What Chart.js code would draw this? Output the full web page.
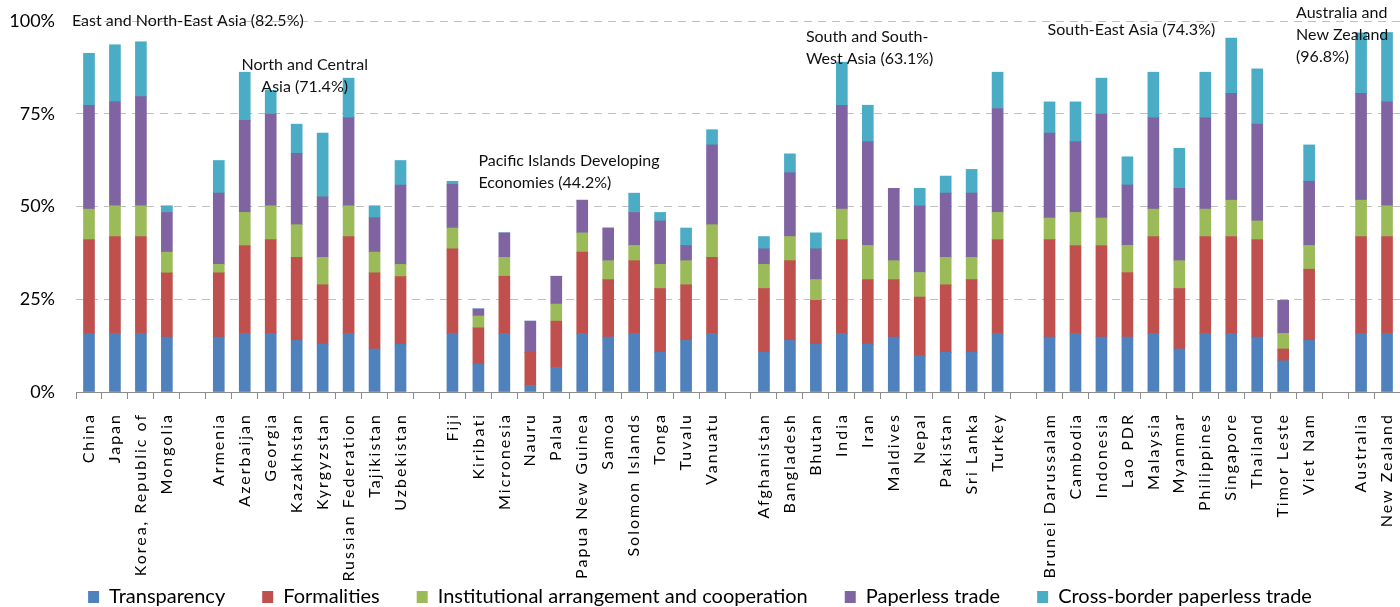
<!DOCTYPE html>
<html>
<head>
<meta charset="utf-8">
<script src="https://cdn.jsdelivr.net/npm/chart.js@4.4.0/dist/chart.umd.min.js"></script>
<style>
  html, body { margin: 0; padding: 0; background: #fff; }
  #wrap { width: 1400px; height: 607px; }
</style>
</head>
<body>
<div id="wrap"><canvas id="tradeChart"></canvas></div>
<script>
// empty strings / nulls are the spacer columns between regions
const countries = ['China', 'Japan', 'Korea, Republic of', 'Mongolia', '',
  'Armenia', 'Azerbaijan', 'Georgia', 'Kazakhstan', 'Kyrgyzstan', 'Russian Federation', 'Tajikistan', 'Uzbekistan', '',
  'Fiji', 'Kiribati', 'Micronesia', 'Nauru', 'Palau', 'Papua New Guinea', 'Samoa', 'Solomon Islands', 'Tonga', 'Tuvalu', 'Vanuatu', '',
  'Afghanistan', 'Bangladesh', 'Bhutan', 'India', 'Iran', 'Maldives', 'Nepal', 'Pakistan', 'Sri Lanka', 'Turkey', '',
  'Brunei Darussalam', 'Cambodia', 'Indonesia', 'Lao PDR', 'Malaysia', 'Myanmar', 'Philippines', 'Singapore', 'Thailand', 'Timor Leste', 'Viet Nam', '',
  'Australia', 'New Zealand'];

const transparency = [15.8, 15.8, 15.8, 14.8, null,
  14.8, 15.8, 15.8, 13.9, 12.9, 15.8, 11.6, 12.9, null,
  15.8, 7.5, 15.8, 1.8, 6.6, 15.8, 14.8, 15.8, 10.7, 13.9, 15.8, null,
  10.7, 13.9, 12.9, 15.8, 12.9, 14.8, 9.8, 10.7, 10.7, 15.8, null,
  14.8, 15.8, 14.8, 14.8, 15.8, 11.6, 15.8, 15.8, 14.8, 8.4, 13.9, null,
  15.8, 15.8];
const formalities = [25.3, 26.1, 26.1, 17.3, null,
  17.3, 23.7, 25.3, 22.4, 16.0, 26.1, 20.5, 18.2, null,
  22.8, 9.8, 15.4, 8.9, 12.5, 21.9, 15.5, 19.6, 17.2, 15.0, 20.5, null,
  17.2, 21.5, 11.8, 25.3, 17.4, 15.5, 15.8, 18.2, 19.6, 25.3, null,
  26.3, 23.7, 24.7, 17.4, 26.1, 16.3, 26.1, 26.1, 26.3, 3.2, 19.2, null,
  26.1, 26.1];
const institutional = [8.2, 8.3, 8.3, 5.6, null,
  2.3, 8.9, 9.1, 8.8, 7.4, 8.3, 5.6, 3.3, null,
  5.6, 3.2, 5.1, 0, 4.6, 5.2, 5.1, 4.1, 6.5, 6.5, 8.8, null,
  6.5, 6.5, 5.6, 8.2, 9.2, 5.1, 6.6, 7.4, 6.0, 7.3, null,
  5.8, 8.9, 7.4, 7.3, 7.4, 7.5, 7.4, 9.8, 5.0, 4.2, 6.4, null,
  9.8, 8.3];
const paperless = [28.0, 28.1, 29.4, 10.7, null,
  19.2, 24.8, 24.7, 19.2, 16.3, 23.8, 9.3, 21.4, null,
  11.8, 1.9, 6.6, 8.4, 7.5, 8.8, 8.8, 8.9, 11.7, 4.1, 21.5, null,
  4.2, 17.2, 8.3, 28.0, 28.0, 19.5, 18.0, 17.3, 17.3, 28.0, null,
  22.9, 19.1, 28.0, 16.3, 24.7, 19.5, 24.7, 28.8, 26.1, 8.9, 17.3, null,
  28.8, 28.0];
const crossBorder = [14.0, 15.3, 14.8, 1.8, null,
  8.8, 13.0, 6.4, 7.9, 17.2, 10.6, 3.2, 6.6, null,
  0.8, 0, 0, 0, 0, 0, 0, 5.2, 2.3, 4.7, 4.1, null,
  3.3, 5.1, 4.3, 11.6, 9.8, 0, 4.7, 4.6, 6.4, 9.8, null,
  8.4, 10.7, 9.7, 7.6, 12.2, 10.8, 12.2, 14.9, 14.9, 0, 9.8, null,
  16.3, 18.7];

const yTicks = [0, 25, 50, 75, 100];

const PLOT_BOTTOM = 392;
const PAD_BOTTOM = -10;

// category axis whose labels are letter-spaced and may run into the legend
class SpacedCategoryScale extends Chart.CategoryScale {
  static id = 'spacedCategory';
  static defaults = Chart.CategoryScale.defaults;
  _computeLabelArea() { return undefined; }
  drawLabels(area) {
    this.ctx.save();
    this.ctx.letterSpacing = '2px';
    super.drawLabels(area);
    this.ctx.restore();
  }
}
Chart.register(SpacedCategoryScale);

// region captions, anchored to a category index and a y value
const regionNotes = {
  id: 'regionNotes',
  afterDatasetsDraw(chart) {
    const { ctx, scales: { x, y } } = chart;
    const notes = [
      { i: 0, dx: -17, v: 100, align: 'left', lines: ['East and North-East Asia (82.5%)'] },
      { i: 8, dx: 8, v: 88.1, align: 'center', lines: ['North and Central', 'Asia (71.4%)'] },
      { i: 15, dx: 0, v: 62.4, align: 'left', lines: ['Pacific Islands Developing', 'Economies (44.2%)'] },
      { i: 28, dx: -10, v: 95.6, align: 'left', lines: ['South and South-', 'West Asia (63.1%)'] },
      { i: 37, dx: -2, v: 97.7, align: 'left', lines: ['South-East Asia (74.3%)'] },
      { i: 49, dx: -65, v: 102.3, align: 'left', lines: ['Australia and', 'New Zealand', '(96.8%)'] }
    ];
    ctx.save();
    ctx.font = '16px Lato';
    ctx.textBaseline = 'middle';
    ctx.fillStyle = '#111';
    ctx.textAlign = 'left';
    notes.forEach(n => {
      const px = x.getPixelForValue(n.i) + n.dx;
      let py = y.getPixelForValue(n.v);
      n.lines.forEach(line => {
        const w = ctx.measureText(line).width;
        const left = n.align === 'center' ? px - w / 2 : px;
        ctx.fillText(line, left, py);
        py += 22;
      });
    });
    ctx.restore();
  }
};

const series = [
  ['Transparency', transparency, '#4F81BD'],
  ['Formalities', formalities, '#C0504D'],
  ['Institutional arrangement and cooperation', institutional, '#9BBB59'],
  ['Paperless trade', paperless, '#8064A2'],
  ['Cross-border paperless trade', crossBorder, '#4BACC6']
];

const ctx = document.getElementById('tradeChart').getContext('2d');
new Chart(ctx, {
  type: 'bar',
  data: {
    labels: countries,
    datasets: series.map(([label, data, color]) => ({
      label: label,
      data: data,
      backgroundColor: color,
      borderWidth: 0,
      barThickness: 11,
      stack: 'all'
    }))
  },
  options: {
    responsive: true,
    maintainAspectRatio: false,
    animation: false,
    layout: { padding: { top: 21, right: 0, left: 0, bottom: PAD_BOTTOM } },
    plugins: {
      legend: {
        position: 'bottom',
        labels: {
          boxWidth: 11,
          boxHeight: 12,
          padding: 37,
          color: '#000',
          font: { family: 'Lato', size: 20 }
        }
      },
      tooltip: { enabled: false }
    },
    scales: {
      x: {
        type: 'spacedCategory',
        stacked: true,
        offset: true,
        grid: { drawOnChartArea: false, offset: true, tickLength: 7, color: '#8c8c8c' },
        border: { color: '#8c8c8c' },
        ticks: {
          autoSkip: false,
          minRotation: 90,
          maxRotation: 90,
          padding: 14,
          color: '#000',
          font: { family: 'Lato', size: 16 }
        },
        afterFit(s) {
          s.height = s.chart.height - PLOT_BOTTOM - s.chart.legend.height - PAD_BOTTOM;
          s.paddingLeft = 0;
          s.paddingRight = 0;
        }
      },
      y: {
        stacked: true,
        min: 0,
        max: 100,
        afterBuildTicks(s) { s.ticks = yTicks.map(v => ({ value: v })); },
        ticks: {
          padding: 21,
          color: '#000',
          font: { family: 'Lato', size: 18 },
          callback: v => v + '%'
        },
        grid: { color: '#bfbfbf', drawTicks: false },
        border: { display: false, dash: [8, 6] },
        afterFit(s) {
          s.width = 76;
          s.paddingTop = 0;
          s.paddingBottom = 0;
        }
      }
    }
  },
  plugins: [regionNotes]
});
</script>
</body>
</html>
